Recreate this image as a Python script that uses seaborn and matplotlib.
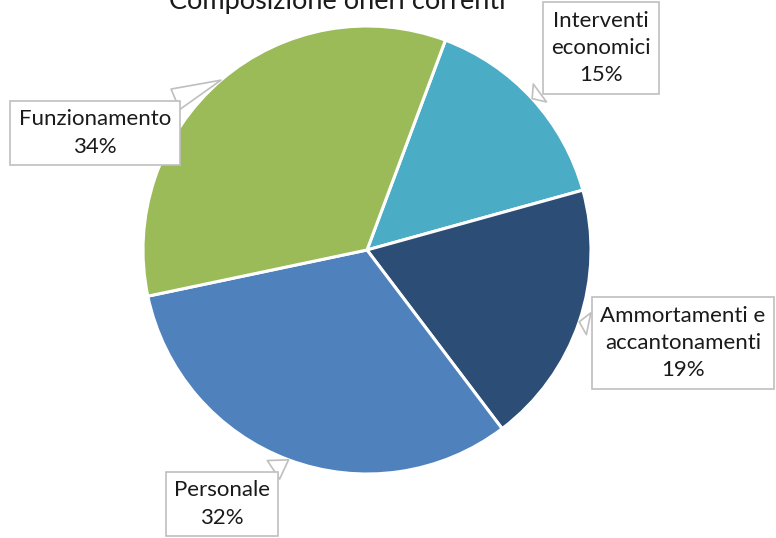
import numpy as np
import matplotlib
matplotlib.use("Agg")
import matplotlib.pyplot as plt
import seaborn as sns

# data
categories = ["Interventi\neconomici", "Ammortamenti e\naccantonamenti", "Personale", "Funzionamento"]
shares = [15, 19, 32, 34]
colors = ["#4BACC6", "#2C4D75", "#4F81BD", "#9BBB59"]
title = "Composizione oneri correnti"

# label box centres in figure pixels (from top-left)
label_pos = [(601, 48), (683, 343), (222, 504), (95, 133)]

sns.set_theme(style="white")
plt.rcParams["font.family"] = ["Lato", "DejaVu Sans"]

W, H = 776, 538
fig = plt.figure(figsize=(W / 100, H / 100), dpi=100)
cx, cy, r = 367, 250, 224
ax = fig.add_axes([(cx - r) / W, (H - cy - r) / H, 2 * r / W, 2 * r / H])

wedges, _ = ax.pie(shares, colors=colors, startangle=69.5, counterclock=False,
                   radius=1, wedgeprops=dict(edgecolor="white", linewidth=2.2))
ax.set_xlim(-1, 1)
ax.set_ylim(-1, 1)
ax.set_aspect("equal")
ax.axis("off")

for w, cat, val, (lx, ly) in zip(wedges, categories, shares, label_pos):
    mid = np.deg2rad((w.theta1 + w.theta2) / 2)
    tip = (np.cos(mid), np.sin(mid))
    ax.annotate(f"{cat}\n{val}%", xy=tip, xycoords="data",
                xytext=(lx / W, 1 - ly / H), textcoords="figure fraction",
                ha="center", va="center", fontsize=16, color="#1a1a1a",
                linespacing=1.45,
                bbox=dict(boxstyle="square,pad=0.38", fc="white", ec="#BFBFBF", lw=1.2),
                arrowprops=dict(arrowstyle="wedge,tail_width=1.0,shrink_factor=0.5",
                                fc="white", ec="#BFBFBF", lw=1.2, shrinkB=0),
                annotation_clip=False)

fig.text(337 / W, 1 - 9 / H, title, ha="center", va="baseline", fontsize=19.5, color="#1a1a1a")

fig.savefig("out.png", dpi=100)
